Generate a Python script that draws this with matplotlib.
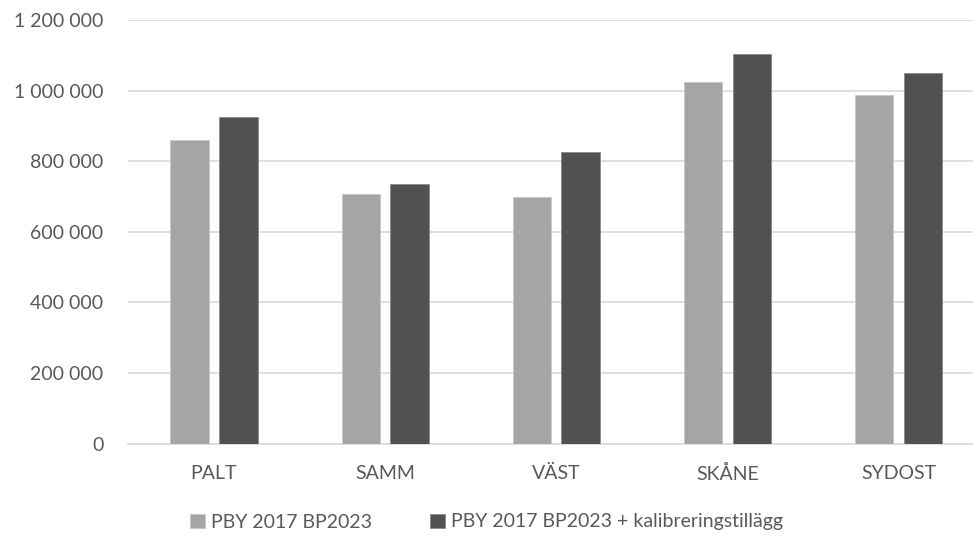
import matplotlib

matplotlib.use("Agg")

import matplotlib.pyplot as plt
import numpy as np
from matplotlib.ticker import FuncFormatter

categories = ["PALT", "SAMM", "VÄST", "SKÅNE", "SYDOST"]
series_names = ["PBY 2017 BP2023", "PBY 2017 BP2023 + kalibreringstillägg"]
pby_2017 = [860000, 707000, 700000, 1023000, 987000]
pby_2017_kalib = [926000, 735000, 826000, 1103000, 1049000]

LIGHT = "#A5A5A5"
DARK = "#515151"
TEXT = "#595959"
GRID = "#D9D9D9"

plt.rcParams["font.family"] = ["Lato", "DejaVu Sans"]

fig = plt.figure(figsize=(9.73, 5.39), dpi=100)
# plot area runs slightly past the right edge of the image, as in the source
ax = fig.add_axes([128.4 / 973, (539 - 443.7) / 539, (984 - 128.4) / 973, (443.7 - 20) / 539])

x = np.arange(len(categories))
w = 0.224
off = 0.1426
ax.bar(x - off, pby_2017, width=w, color=LIGHT, edgecolor="#C8C8C8", linewidth=0.6,
       label=series_names[0], zorder=3)
ax.bar(x + off, pby_2017_kalib, width=w, color=DARK, edgecolor="#8A8A8A", linewidth=0.6,
       label=series_names[1], zorder=3)

ax.set_xlim(-0.5, len(categories) - 0.5)
ax.set_ylim(0, 1200000)
ax.set_yticks(np.arange(0, 1200001, 200000))
ax.yaxis.set_major_formatter(FuncFormatter(lambda v, p: f"{int(v):,}".replace(",", " ")))
ax.set_xticks(x)
ax.set_xticklabels(categories)

ax.grid(axis="y", color=GRID, linewidth=1.2, zorder=0)
for side in ["top", "right", "left"]:
    ax.spines[side].set_visible(False)
ax.spines["bottom"].set_color(GRID)
ax.spines["bottom"].set_linewidth(1.2)
ax.tick_params(axis="both", length=0, labelsize=14, colors=TEXT)
ax.tick_params(axis="y", pad=18)
ax.tick_params(axis="x", pad=15)

fig.legend(loc="center", bbox_to_anchor=(0.5, (539 - 522) / 539), ncol=2,
           frameon=False, fontsize=14, labelcolor=TEXT, handlelength=0.75,
           handleheight=0.75, handletextpad=0.3, columnspacing=3.0)

fig.savefig("out.png", dpi=100)
plt.close(fig)
